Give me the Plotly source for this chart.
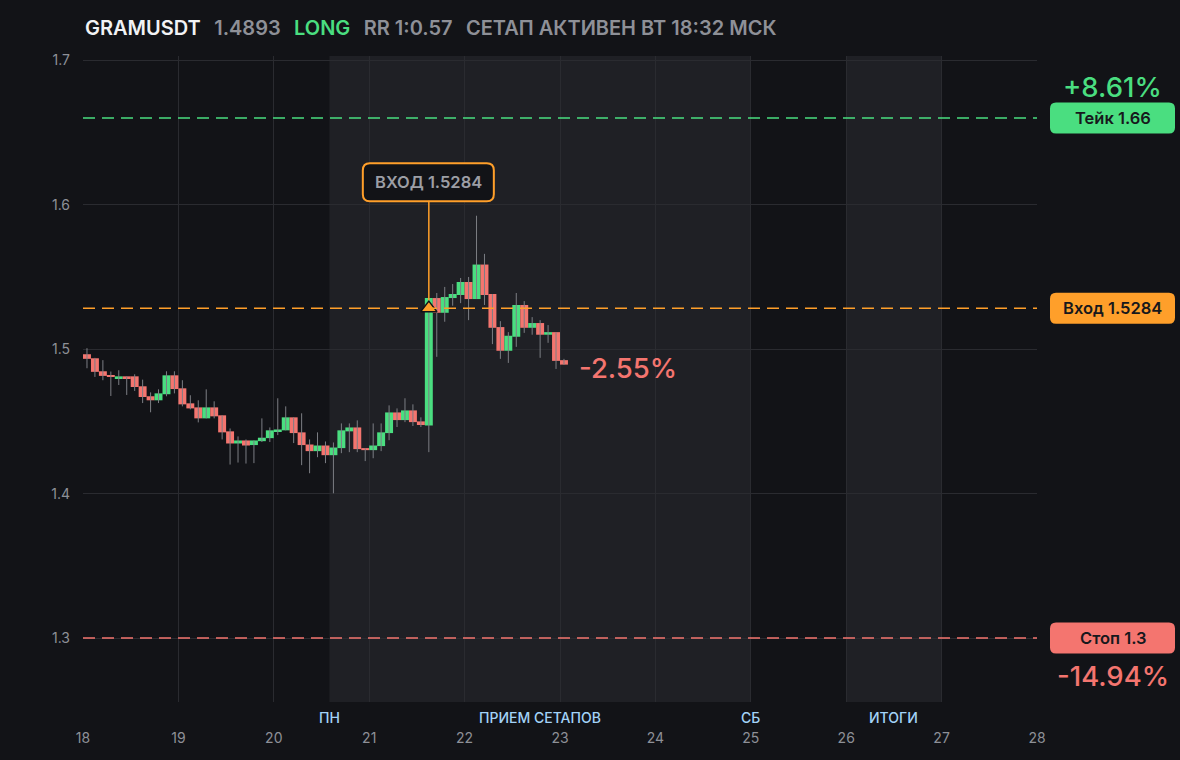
import plotly.graph_objects as go

symbol = "GRAMUSDT"
side = "LONG"
rr_text = "RR 1:0.57"
status_text = "СЕТАП АКТИВЕН ВТ 18:32 МСК"
last_price = 1.4893

take = 1.66
entry = 1.5284
stop = 1.3
take_pct = "+8.61%"
stop_pct = "-14.94%"
last_pct = "-2.55%"
entry_idx = 43  # candle where the setup triggered

# 2h candles
opens = [1.4965, 1.4937, 1.4847, 1.4819, 1.4799, 1.4812, 1.4812, 1.4743, 1.4674, 1.4646,
         1.4688, 1.4819, 1.4729, 1.4625, 1.4597, 1.4521, 1.4597, 1.4542, 1.4431, 1.4347,
         1.4368, 1.4336, 1.4363, 1.4384, 1.4431, 1.4438, 1.4528, 1.4424, 1.4340, 1.4294,
         1.4333, 1.4266, 1.4315, 1.4431, 1.4458, 1.4315, 1.4301, 1.4329, 1.4419, 1.4562,
         1.4509, 1.4576, 1.4500, 1.4472, 1.5354, 1.5252, 1.5354, 1.5375, 1.5465, 1.5347,
         1.5586, 1.5382, 1.5153, 1.4989, 1.5086, 1.5306, 1.5148, 1.5181, 1.5100, 1.5118,
         1.4924]
highs = [1.5007, 1.4940, 1.4924, 1.4845, 1.4854, 1.4812, 1.4826, 1.4789, 1.4701, 1.4722,
         1.4847, 1.4847, 1.4785, 1.4681, 1.4646, 1.4722, 1.4639, 1.4542, 1.4451, 1.4396,
         1.4375, 1.4368, 1.4521, 1.4458, 1.4660, 1.4604, 1.4528, 1.4556, 1.4375, 1.4424,
         1.4361, 1.4354, 1.4486, 1.4486, 1.4507, 1.4315, 1.4486, 1.4486, 1.4611, 1.4590,
         1.4660, 1.4618, 1.4528, 1.5354, 1.5389, 1.5431, 1.5451, 1.5493, 1.5500, 1.5924,
         1.5660, 1.5382, 1.5194, 1.5118, 1.5389, 1.5333, 1.5222, 1.5201, 1.5167, 1.5118,
         1.4933]
lows = [1.4868, 1.4808, 1.4785, 1.4676, 1.4752, 1.4683, 1.4711, 1.4627, 1.4563, 1.4627,
        1.4674, 1.4694, 1.4604, 1.4583, 1.4493, 1.4521, 1.4521, 1.4375, 1.4201, 1.4215,
        1.4208, 1.4211, 1.4357, 1.4357, 1.4405, 1.4438, 1.4350, 1.4197, 1.4141, 1.4252,
        1.4211, 1.4002, 1.4280, 1.4287, 1.4287, 1.4225, 1.4245, 1.4294, 1.4370, 1.4461,
        1.4495, 1.4468, 1.4461, 1.4287, 1.4947, 1.5190, 1.5301, 1.5319, 1.5201, 1.5347,
        1.5306, 1.5035, 1.4933, 1.4905, 1.5016, 1.5113, 1.5100, 1.4940, 1.5044, 1.4863,
        1.4891]
closes = [1.4933, 1.4843, 1.4815, 1.4808, 1.4812, 1.4799, 1.4738, 1.4669, 1.4646, 1.4694,
          1.4819, 1.4724, 1.4618, 1.4590, 1.4521, 1.4597, 1.4535, 1.4424, 1.4347, 1.4368,
          1.4333, 1.4368, 1.4387, 1.4438, 1.4444, 1.4528, 1.4419, 1.4336, 1.4294, 1.4333,
          1.4266, 1.4319, 1.4438, 1.4458, 1.4308, 1.4301, 1.4333, 1.4424, 1.4562, 1.4509,
          1.4576, 1.4495, 1.4475, 1.5354, 1.5252, 1.5361, 1.5382, 1.5465, 1.5347, 1.5586,
          1.5375, 1.5148, 1.4989, 1.5093, 1.5306, 1.5148, 1.5181, 1.5100, 1.5118, 1.4919,
          1.4893]

# candle centres, day-of-month units (day 18 00:00 + 1h, every 2h)
times = [18 + (2 * i + 1) / 24 for i in range(len(opens))]

session_spans = [(20.583, 25.0), (26.0, 27.0)]
session_label_x = [20.583, 22.79, 25.0, 26.5]
session_label_text = ["ПН", "ПРИЕМ СЕТАПОВ", "СБ", "ИТОГИ"]

day_ticks = list(range(18, 29))
price_ticks = [1.3, 1.4, 1.5, 1.6, 1.7]

BG = "#121317"
SESSION = "#1f2025"
GRID = "#2a2b30"
GREEN = "#4ade80"
RED = "#f4756f"
ORANGE = "#ff9f2a"
WICK = "#7c7e84"
MUTED = "#8e9097"
DAYLBL = "#a3d3f8"
FONT = "Inter"


def rounded(x0, x1, y0, y1, r):
    return (f"M {x0 + r},{y0} L {x1 - r},{y0} Q {x1},{y0} {x1},{y0 + r} "
            f"L {x1},{y1 - r} Q {x1},{y1} {x1 - r},{y1} L {x0 + r},{y1} "
            f"Q {x0},{y1} {x0},{y1 - r} L {x0},{y0 + r} Q {x0},{y0} {x0 + r},{y0} Z")


wick_x, wick_y = [], []
for t, h, l in zip(times, highs, lows):
    wick_x += [t, t, None]
    wick_y += [l, h, None]

body_base = [min(o, c) for o, c in zip(opens, closes)]
body_h = [max(abs(c - o), 0.0004) for o, c in zip(opens, closes)]
body_col = [GREEN if c >= o else RED for o, c in zip(opens, closes)]

fig = go.Figure()
fig.add_trace(go.Scatter(x=wick_x, y=wick_y, mode="lines",
                         line=dict(color=WICK, width=1), hoverinfo="skip"))
fig.add_trace(go.Bar(x=times, y=body_h, base=body_base, width=1 / 12,
                     marker=dict(color=body_col, line=dict(width=0))))
fig.add_trace(go.Scatter(x=[times[entry_idx]], y=[entry], mode="markers",
                         marker=dict(symbol="triangle-up", size=14, color=ORANGE,
                                     line=dict(color=BG, width=1.5))))

# sessions
for a, b in session_spans:
    fig.add_shape(type="rect", xref="x", yref="paper", x0=a, x1=b, y0=0, y1=1,
                  fillcolor=SESSION, line_width=0, layer="below")
for x, txt in zip(session_label_x, session_label_text):
    fig.add_annotation(x=x, y=0, xref="x", yref="paper", yanchor="middle", yshift=-15,
                       text=txt, showarrow=False,
                       font=dict(family=FONT, size=14, color=DAYLBL, weight=500))

# levels
levels = [(take, GREEN, "Тейк 1.66"), (entry, ORANGE, "Вход 1.5284"), (stop, RED, "Стоп 1.3")]
for lvl, col, txt in levels:
    fig.add_shape(type="line", xref="paper", yref="y", x0=0, x1=1, y0=lvl, y1=lvl,
                  line=dict(color=col, width=1.5, dash="12px,7px"), layer="above")
    fig.add_shape(type="path", xref="paper", yref="y", xsizemode="pixel", ysizemode="pixel",
                  xanchor=1, yanchor=lvl, path=rounded(13, 138, -15.5, 15.5, 6),
                  fillcolor=col, line_width=0, layer="above")
    fig.add_annotation(x=1, y=lvl, xref="paper", yref="y", xanchor="center", xshift=75.5,
                       showarrow=False, text=txt,
                       font=dict(family=FONT, size=16.5, color="#17181c", weight=600))

fig.add_annotation(x=1, y=take, xref="paper", yref="y", xanchor="center", xshift=75.5,
                   yshift=31, showarrow=False, text=take_pct,
                   font=dict(family=FONT, size=27.5, color=GREEN, weight=500))
fig.add_annotation(x=1, y=stop, xref="paper", yref="y", xanchor="center", xshift=75.5,
                   yshift=-38, showarrow=False, text=stop_pct,
                   font=dict(family=FONT, size=27.5, color=RED, weight=500))
fig.add_annotation(x=times[-1], y=closes[-1], xanchor="left", xshift=13, yshift=-3,
                   showarrow=False, text=last_pct,
                   font=dict(family=FONT, size=27.5, color=RED, weight=500))

# entry callout
fig.add_shape(type="path", xref="x", yref="y", xsizemode="pixel", ysizemode="pixel",
              xanchor=times[entry_idx], yanchor=entry,
              path=rounded(-66, 65, 107, 145, 7),
              fillcolor=BG, line=dict(color=ORANGE, width=2), layer="above")
fig.add_annotation(x=times[entry_idx], y=entry, ax=0, ay=-126, showarrow=True,
                   arrowhead=0, arrowcolor=ORANGE, arrowwidth=1.5, standoff=8,
                   borderpad=8, text="ВХОД 1.5284",
                   font=dict(family=FONT, size=16.5, color="#9c9ea5", weight=600))

sp = "\u00a0\u00a0\u2009"
header = (f"<span style='color:#f1f2f4'>{symbol}</span>{sp}"
          f"<span style='color:{MUTED}'>{last_price}</span>{sp}"
          f"<span style='color:{GREEN}'>{side}</span>{sp}"
          f"<span style='color:{MUTED}'>{rr_text}</span>{sp}"
          f"<span style='color:{MUTED}'>{status_text}</span>")
fig.add_annotation(x=0, y=1, xref="paper", yref="paper", xanchor="left", yanchor="middle",
                   yshift=28, showarrow=False, text=header,
                   font=dict(family=FONT, size=20, weight=600))

fig.update_layout(width=1180, height=760, margin=dict(l=83, r=143, t=56, b=58),
                  paper_bgcolor=BG, plot_bgcolor=BG, showlegend=False,
                  font=dict(family=FONT, size=14, color=MUTED))
fig.update_xaxes(range=[18, 28], tickvals=day_ticks, showgrid=True, gridcolor=GRID,
                 zeroline=False, ticklabelstandoff=26, tickfont=dict(size=14, color=MUTED))
fig.update_yaxes(range=[1.2557, 1.703], tickvals=price_ticks,
                 ticktext=[f"{v:.1f}" for v in price_ticks], showgrid=True, gridcolor=GRID,
                 zeroline=False, ticklabelstandoff=12, tickfont=dict(size=14, color=MUTED))

fig.write_html("out.html", config={"displayModeBar": False},
               post_script="document.body.style.margin='0';")
